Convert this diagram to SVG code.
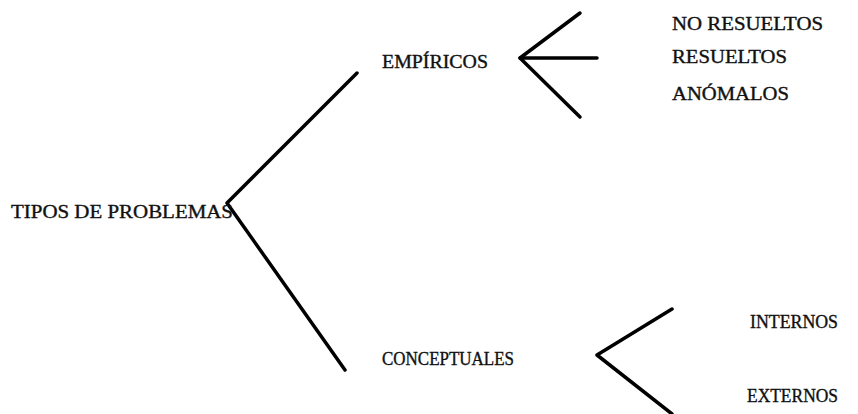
<svg xmlns="http://www.w3.org/2000/svg" width="858" height="414" viewBox="0 0 858 414">
<style>
text{font-family:"Liberation Serif","Times New Roman",serif;font-size:18px;fill:#111;stroke:#111;stroke-width:0.35}
.c{stroke:#000;stroke-width:3.5;fill:none;stroke-linecap:round;stroke-linejoin:round}
</style>
<rect width="858" height="414" fill="#fff"/>
<g id="connectors">
<polyline class="c" points="357,73 227,203 345,370"/>
<polyline class="c" points="580,13 520,58 580,117"/>
<line class="c" x1="520" y1="58" x2="597" y2="58"/>
<polyline class="c" points="672,309 597,355 672,414"/>
</g>
<g id="tipos"><text x="11" y="218" textLength="222" lengthAdjust="spacingAndGlyphs">TIPOS DE PROBLEMAS</text></g>
<g id="empiricos"><text x="382" y="68" textLength="106" lengthAdjust="spacingAndGlyphs">EMPÍRICOS</text></g>
<g id="conceptuales"><text x="382" y="365" textLength="132" lengthAdjust="spacingAndGlyphs">CONCEPTUALES</text></g>
<g id="no-resueltos"><text x="672" y="30" textLength="151" lengthAdjust="spacingAndGlyphs">NO RESUELTOS</text></g>
<g id="resueltos"><text x="672" y="63" textLength="115" lengthAdjust="spacingAndGlyphs">RESUELTOS</text></g>
<g id="anomalos"><text x="672" y="100" textLength="117" lengthAdjust="spacingAndGlyphs">ANÓMALOS</text></g>
<g id="internos"><text x="750" y="328" textLength="88" lengthAdjust="spacingAndGlyphs">INTERNOS</text></g>
<g id="externos"><text x="747" y="402" textLength="91" lengthAdjust="spacingAndGlyphs">EXTERNOS</text></g>
</svg>
